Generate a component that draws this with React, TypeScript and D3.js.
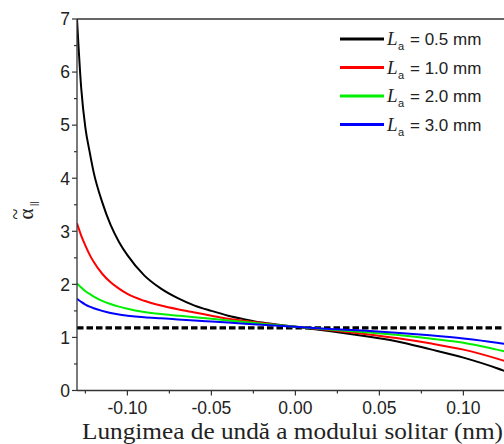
import React from "react";
import * as d3 from "d3";

const xs = [-0.13, -0.1275, -0.125, -0.1225, -0.12, -0.115, -0.11, -0.105, -0.1, -0.09, -0.08, -0.07, -0.06, -0.05, -0.04, -0.03, -0.02, -0.01, 0, 0.02, 0.04, 0.06, 0.08, 0.1, 0.12, 0.13];
const black05 = [7.0, 5.7, 4.95, 4.5, 4.1, 3.55, 3.12, 2.8, 2.55, 2.17, 1.92, 1.74, 1.6, 1.5, 1.41, 1.34, 1.28, 1.24, 1.2, 1.12, 1.03, 0.93, 0.78, 0.62, 0.42, 0.3];
const red10 = [3.15, 2.92, 2.73, 2.56, 2.42, 2.2, 2.04, 1.92, 1.82, 1.69, 1.6, 1.53, 1.47, 1.41, 1.35, 1.31, 1.27, 1.23, 1.2, 1.14, 1.07, 0.99, 0.89, 0.77, 0.6, 0.5];
const green20 = [2.02, 1.94, 1.87, 1.82, 1.77, 1.69, 1.63, 1.58, 1.54, 1.48, 1.44, 1.41, 1.38, 1.35, 1.32, 1.29, 1.26, 1.23, 1.2, 1.15, 1.1, 1.05, 0.98, 0.9, 0.77, 0.7];
const blue30 = [1.73, 1.67, 1.62, 1.58, 1.55, 1.5, 1.46, 1.43, 1.41, 1.38, 1.36, 1.34, 1.32, 1.3, 1.28, 1.26, 1.24, 1.22, 1.2, 1.16, 1.13, 1.09, 1.04, 0.98, 0.9, 0.85];
const refLevel = 1.18;

const seriesNames = ["0.5", "1.0", "2.0", "3.0"];
const seriesColors = ["#000000", "#ff0000", "#00ee00", "#0000ff"];
const seriesValues = [black05, red10, green20, blue30];

const xMajor = [-0.1, -0.05, 0, 0.05, 0.1];
const xMinor = [-0.125, -0.075, -0.025, 0.025, 0.075, 0.125];
const yMajor = [0, 1, 2, 3, 4, 5, 6, 7];
const yMinor = [0.5, 1.5, 2.5, 3.5, 4.5, 5.5, 6.5];

const fmtX = (v: number) => (v < 0 ? "-" : "") + Math.abs(v).toFixed(2);

export default function App() {
  const W = 504, H = 444;
  const left = 77, top = 19, bottom = 390.5;
  const x = d3.scaleLinear().domain([-0.13, 0.13]).range([left, left + 0.26 * 1680]);
  const y = d3.scaleLinear().domain([0, 7]).range([bottom, top]);
  const line = d3.line<number>().x((_, i) => x(xs[i])).y((d) => y(d)).curve(d3.curveMonotoneX);
  const axisColor = "#333";
  const sans = "Arial, 'Liberation Sans', sans-serif";
  const serif = "'Times New Roman', 'Liberation Serif', serif";

  return (
    <svg width={W} height={H} style={{ position: "absolute", left: 0, top: 0, background: "#fff" }}>
      <defs>
        <clipPath id="plot">
          <rect x={left} y={top - 2} width={W - left} height={bottom - top + 2} />
        </clipPath>
      </defs>
      <rect x={0} y={0} width={W} height={H} fill="#fff" />
      <g clipPath="url(#plot)">
        <line x1={x(-0.13)} x2={x(0.13)} y1={y(refLevel)} y2={y(refLevel)} stroke="#000" strokeWidth={3.2} strokeDasharray="6.5,3" />
        {seriesValues.map((vals, k) => (
          <path key={k} d={line(vals) || ""} fill="none" stroke={seriesColors[k]} strokeWidth={2} />
        ))}
      </g>
      <line x1={left} x2={left} y1={top} y2={bottom} stroke={axisColor} strokeWidth={1.3} />
      <line x1={left} x2={W} y1={bottom} y2={bottom} stroke={axisColor} strokeWidth={1.3} />
      <line x1={left} x2={W} y1={top} y2={top} stroke={axisColor} strokeWidth={1.3} />
      {yMajor.map((v) => (
        <g key={"ym" + v}>
          <line x1={left - 5} x2={left} y1={y(v)} y2={y(v)} stroke={axisColor} strokeWidth={1.2} />
          <text x={left - 7} y={y(v)} dy="0.36em" textAnchor="end" fontFamily={sans} fontSize={17.5} fill="#222">{v}</text>
        </g>
      ))}
      {yMinor.map((v) => (
        <line key={"yn" + v} x1={left - 3} x2={left} y1={y(v)} y2={y(v)} stroke={axisColor} strokeWidth={1.2} />
      ))}
      {xMajor.map((v) => (
        <g key={"xm" + v}>
          <line x1={x(v)} x2={x(v)} y1={bottom} y2={bottom + 5} stroke={axisColor} strokeWidth={1.2} />
          <text x={x(v)} y={414} textAnchor="middle" fontFamily={sans} fontSize={17.5} fill="#222">{fmtX(v)}</text>
        </g>
      ))}
      {xMinor.map((v) => (
        <line key={"xn" + v} x1={x(v)} x2={x(v)} y1={bottom} y2={bottom + 3} stroke={axisColor} strokeWidth={1.2} />
      ))}
      <text x={292.5} y={438.5} textAnchor="middle" fontFamily={serif} fontSize={23} textLength={421} lengthAdjust="spacingAndGlyphs" fill="#222">Lungimea de undă a modului solitar (nm)</text>
      <g transform="translate(33,214) rotate(-90)">
        <text x={0} y={0} textAnchor="middle" fontFamily={serif} fontSize={21} fill="#222">α</text>
        <text x={0} y={-11} textAnchor="middle" fontFamily={serif} fontSize={20} fill="#222">~</text>
        <text x={8} y={4} fontFamily={sans} fontSize={9} fill="#222">||</text>
      </g>
      {seriesNames.map((n, k) => {
        const ly = 39 + k * 28.5;
        return (
          <g key={"lg" + n}>
            <line x1={340} x2={384} y1={ly} y2={ly} stroke={seriesColors[k]} strokeWidth={3} />
            <text x={387} y={ly + 6} fontFamily={serif} fontStyle="italic" fontSize={19} fill="#222">L</text>
            <text x={398} y={ly + 11} fontFamily={sans} fontSize={11} fill="#222">a</text>
            <text x={410} y={ly + 6} fontFamily={sans} fontSize={17} fill="#222">= {n} mm</text>
          </g>
        );
      })}
    </svg>
  );
}
